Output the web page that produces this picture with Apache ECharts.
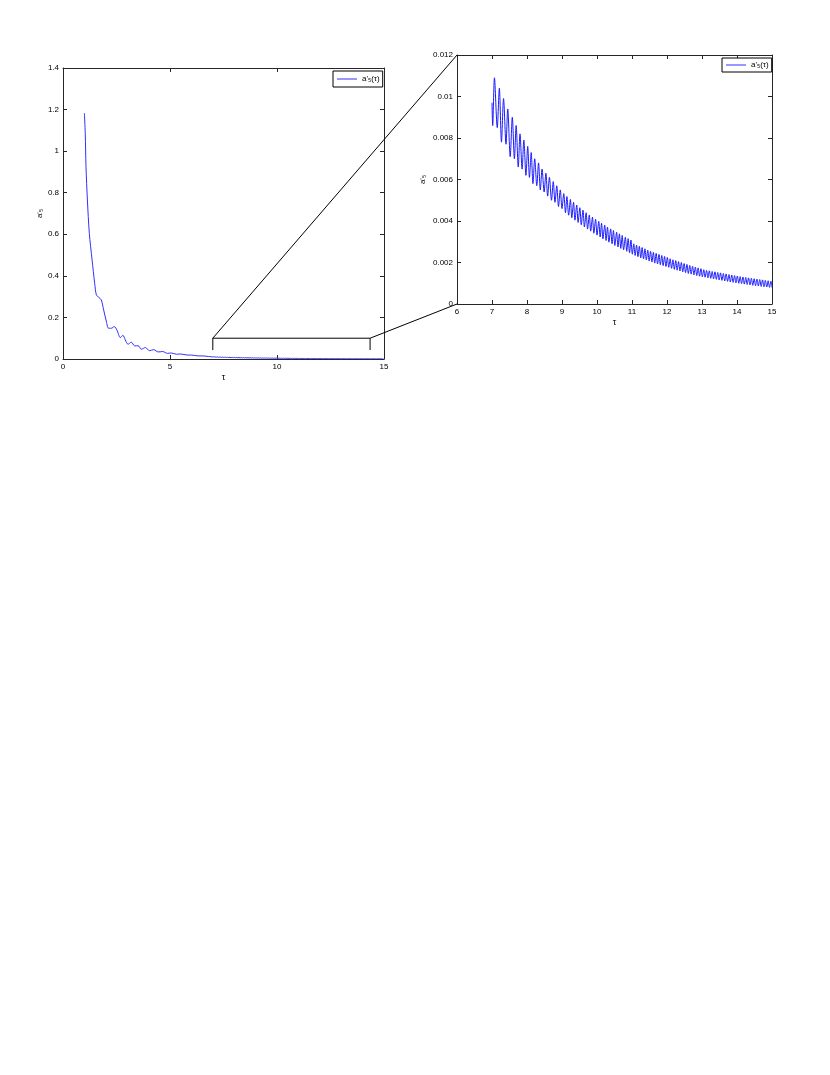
<!DOCTYPE html>
<html>
<head>
<meta charset="utf-8">
<title>a'5 decay</title>
<script src="https://cdn.jsdelivr.net/npm/echarts@6/dist/echarts.min.js"></script>
<style>
  html, body { margin: 0; padding: 0; background: #fff; }
  #chart { width: 830px; height: 1075px; }
</style>
</head>
<body>
<div id="chart"></div>
<script>
// full curve, tau 1..7 (the part past 7 is the zoomed data below)
const leftTau = [1.0, 1.04, 1.075, 1.14, 1.23, 1.36, 1.48, 1.56, 1.67, 1.79, 1.90, 2.01, 2.13, 2.26, 2.40,
  2.52, 2.68, 2.80, 2.91, 3.04, 3.19, 3.35, 3.51, 3.66, 3.85, 4.04, 4.24, 4.45, 4.66, 4.88, 5.06,
  5.3, 5.5, 5.8, 6.0, 6.3, 6.5, 6.8];
const leftVal = [1.182, 1.086, 0.925, 0.765, 0.605, 0.476, 0.364, 0.308, 0.297, 0.284, 0.236, 0.188, 0.148, 0.148, 0.156,
  0.139, 0.103, 0.114, 0.092, 0.071, 0.081, 0.063, 0.064, 0.047, 0.055, 0.040, 0.045, 0.034, 0.036, 0.027, 0.029,
  0.023, 0.024, 0.019, 0.019, 0.015, 0.015, 0.012];

// zoomed part, tau 7..15 : peaks and troughs
const zoomTau = [
  7.00, 7.02, 7.07, 7.15, 7.21, 7.27, 7.33, 7.40, 7.45, 7.52, 7.58, 7.64, 7.69, 7.75, 7.80, 7.86, 7.91, 7.97, 8.02,
  8.07, 8.12, 8.17, 8.22, 8.28, 8.33, 8.38, 8.43, 8.49, 8.54, 8.59, 8.64, 8.70, 8.75, 8.80, 8.85, 8.90, 8.95, 9.00,
  9.05, 9.10, 9.14, 9.19, 9.24, 9.28, 9.33, 9.37, 9.42, 9.46, 9.51, 9.55, 9.60, 9.64, 9.69, 9.73, 9.78, 9.82, 9.87,
  9.91, 9.96, 10.00, 10.05, 10.09, 10.13, 10.17, 10.22, 10.26, 10.30, 10.34, 10.39, 10.43, 10.47, 10.51, 10.56,
  10.60, 10.64, 10.68, 10.72, 10.76, 10.81, 10.85, 10.89, 10.93, 10.97, 11.01,
  11.05, 11.09, 11.13, 11.17, 11.21, 11.25, 11.29, 11.33, 11.37, 11.41, 11.45, 11.49, 11.53, 11.57, 11.61, 11.65,
  11.69, 11.73, 11.77, 11.81, 11.85, 11.89, 11.93, 11.97, 12.01, 12.05,
  12.09, 12.13, 12.17, 12.21, 12.25, 12.29, 12.33, 12.37, 12.41, 12.45, 12.49, 12.53, 12.57, 12.61, 12.65, 12.69,
  12.73, 12.77, 12.81, 12.85, 12.89, 12.93, 12.97, 13.01,
  13.05, 13.09, 13.13, 13.17, 13.21, 13.25, 13.29, 13.33, 13.37, 13.41, 13.45, 13.49, 13.53, 13.57, 13.61, 13.65,
  13.69, 13.73, 13.77, 13.81, 13.85, 13.89, 13.93, 13.97, 14.01, 14.05, 14.09, 14.13, 14.17, 14.21, 14.25, 14.29,
  14.33, 14.37, 14.41, 14.45, 14.49, 14.53, 14.57, 14.61, 14.65, 14.69, 14.73, 14.77, 14.81, 14.85, 14.89, 14.93,
  14.97, 15.00
];
const zoomVal = [
  0.0097, 0.0086, 0.0109, 0.0085, 0.0104, 0.0078, 0.0099, 0.0077, 0.0094, 0.0071, 0.0090, 0.0070, 0.0086, 0.0066,
  0.0082, 0.0065, 0.0079, 0.0062, 0.0076, 0.0061, 0.0073, 0.0058, 0.0070, 0.0057, 0.0068, 0.0055, 0.0065, 0.0054,
  0.0063, 0.0052, 0.0061, 0.0050, 0.0059, 0.0049, 0.0057, 0.0047, 0.0055, 0.0046,
  0.00532, 0.00440, 0.00518, 0.00428, 0.00504, 0.00416, 0.00490, 0.00404, 0.00477, 0.00393, 0.00464, 0.00382,
  0.00452, 0.00371, 0.00440, 0.00361, 0.00429, 0.00351, 0.00418, 0.00341, 0.00408, 0.00332, 0.00398, 0.00323,
  0.00389, 0.00314, 0.00380, 0.00306, 0.00371, 0.00298, 0.00362, 0.00290, 0.00354, 0.00282, 0.00346, 0.00275,
  0.00338, 0.00268, 0.00330, 0.00261, 0.00322, 0.00254, 0.00315, 0.00247, 0.00308, 0.00240,
  0.00290, 0.00234, 0.00284, 0.00228, 0.00278, 0.00222, 0.00272, 0.00217, 0.00266, 0.00212, 0.00260, 0.00207,
  0.00254, 0.00202, 0.00249, 0.00197, 0.00244, 0.00193, 0.00239, 0.00189, 0.00234, 0.00185, 0.00229, 0.00181,
  0.00224, 0.00177,
  0.00218, 0.00172, 0.00213, 0.00167, 0.00209, 0.00163, 0.00204, 0.00159, 0.00200, 0.00155, 0.00195, 0.00151,
  0.00191, 0.00147, 0.00186, 0.00144, 0.00182, 0.00140, 0.00178, 0.00137, 0.00174, 0.00134, 0.00170, 0.00131,
  0.00165, 0.00129, 0.00162, 0.00126, 0.00160, 0.00124, 0.00157, 0.00121, 0.00155, 0.00119, 0.00152, 0.00116,
  0.00150, 0.00114, 0.00147, 0.00111, 0.00145, 0.00109, 0.00142, 0.00106, 0.00140, 0.00104, 0.00137, 0.00102,
  0.00135, 0.00100, 0.00132, 0.00098, 0.00130, 0.00096, 0.00128, 0.00094, 0.00126, 0.00092, 0.00124, 0.00090,
  0.00122, 0.00088, 0.00120, 0.00087, 0.00118, 0.00085, 0.00116, 0.00083, 0.00114, 0.00082, 0.00112, 0.00080,
  0.00110, 0.00079
];

const SERIES_NAME = "a'\u2085(\u03c4)";
const FONT = '"Liberation Sans", "DejaVu Sans", sans-serif';
const AXIS_COLOR = '#262626';

// zoom bracket on the left panel (data units)
const bracketX0 = 7;
const bracketX1 = 14.35;
const bracketTop = 0.1;
const bracketFoot = 0.043;

const fullData = leftTau.map((t, i) => [t, leftVal[i]])
  .concat(zoomTau.map((t, i) => [t, zoomVal[i]]));
const zoomData = zoomTau.map((t, i) => [t, zoomVal[i]]);

function xAxisCfg(gridIndex, min, max, interval, pos, showLabel) {
  return {
    type: 'value', gridIndex: gridIndex, position: pos,
    min: min, max: max, interval: interval,
    name: showLabel ? '\u03c4' : '', nameLocation: 'middle', nameGap: 14,
    nameTextStyle: { fontSize: 9, color: '#000', fontFamily: FONT },
    axisLine: { show: true, onZero: false, lineStyle: { color: AXIS_COLOR, width: 1 } },
    axisTick: { show: true, inside: true, length: 4, lineStyle: { color: AXIS_COLOR } },
    axisLabel: { show: showLabel, fontSize: 8, color: '#000', fontFamily: FONT, margin: 4 },
    splitLine: { show: false }
  };
}

function yAxisCfg(gridIndex, min, max, interval, pos, showLabel, gap) {
  return {
    type: 'value', gridIndex: gridIndex, position: pos,
    min: min, max: max, interval: interval,
    name: showLabel ? "a'\u2085" : '', nameLocation: 'middle', nameGap: gap, nameRotate: 90,
    nameTextStyle: { fontSize: 8, color: '#000', fontFamily: FONT },
    axisLine: { show: true, onZero: false, lineStyle: { color: AXIS_COLOR, width: 1 } },
    axisTick: { show: true, inside: true, length: 4, lineStyle: { color: AXIS_COLOR } },
    axisLabel: { show: showLabel, fontSize: 8, color: '#000', fontFamily: FONT, margin: 4 },
    splitLine: { show: false }
  };
}

function legendCfg(left, top, padV) {
  return {
    left: left, top: top,
    data: [SERIES_NAME],
    selectedMode: false,
    icon: 'rect',
    backgroundColor: '#fff',
    borderColor: '#000', borderWidth: 1, borderRadius: 0,
    padding: [padV, 3, padV, 4],
    itemWidth: 20, itemHeight: 1,
    textStyle: { fontSize: 8, color: '#000', fontFamily: FONT }
  };
}

const chart = echarts.init(document.getElementById('chart'), null, { renderer: 'canvas' });
chart.setOption({
  animation: false,
  backgroundColor: '#fff',
  grid: [
    { left: 63, top: 68, width: 321, height: 291 },
    { left: 457, top: 55, width: 315, height: 249 }
  ],
  xAxis: [
    xAxisCfg(0, 0, 15, 5, 'bottom', true),
    xAxisCfg(0, 0, 15, 5, 'top', false),
    xAxisCfg(1, 6, 15, 1, 'bottom', true),
    xAxisCfg(1, 6, 15, 1, 'top', false)
  ],
  yAxis: [
    yAxisCfg(0, 0, 1.4, 0.2, 'left', true, 16),
    yAxisCfg(0, 0, 1.4, 0.2, 'right', false, 0),
    yAxisCfg(1, 0, 0.012, 0.002, 'left', true, 30),
    yAxisCfg(1, 0, 0.012, 0.002, 'right', false, 0)
  ],
  legend: [legendCfg(333, 71, 4), legendCfg(722, 58, 3)],
  series: [
    {
      name: SERIES_NAME, type: 'line', xAxisIndex: 0, yAxisIndex: 0,
      data: fullData, showSymbol: false, symbol: 'none', smooth: 0.3,
      lineStyle: { color: '#3030ff', width: 1 }, itemStyle: { color: '#3030ff' }
    },
    {
      name: SERIES_NAME, type: 'line', xAxisIndex: 2, yAxisIndex: 2,
      data: zoomData, showSymbol: false, symbol: 'none', smooth: 0.3,
      lineStyle: { color: '#1a1aff', width: 1 }, itemStyle: { color: '#6a6aff' }
    }
  ]
});

// bracket + connector lines, placed through the axes
const p0 = chart.convertToPixel({ gridIndex: 0 }, [bracketX0, bracketTop]);
const p1 = chart.convertToPixel({ gridIndex: 0 }, [bracketX1, bracketTop]);
const f0 = chart.convertToPixel({ gridIndex: 0 }, [bracketX0, bracketFoot]);
const f1 = chart.convertToPixel({ gridIndex: 0 }, [bracketX1, bracketFoot]);
const zTop = chart.convertToPixel({ gridIndex: 1 }, [6, 0.012]);
const zBot = chart.convertToPixel({ gridIndex: 1 }, [6, 0]);
const lineStyle = { stroke: '#000', lineWidth: 1 };
function seg(a, b) {
  return { type: 'line', silent: true, z: 10, shape: { x1: a[0], y1: a[1], x2: b[0], y2: b[1] }, style: lineStyle };
}
chart.setOption({
  graphic: [seg(p0, p1), seg(p0, f0), seg(p1, f1), seg(p0, zTop), seg(p1, zBot)]
});
</script>
</body>
</html>
